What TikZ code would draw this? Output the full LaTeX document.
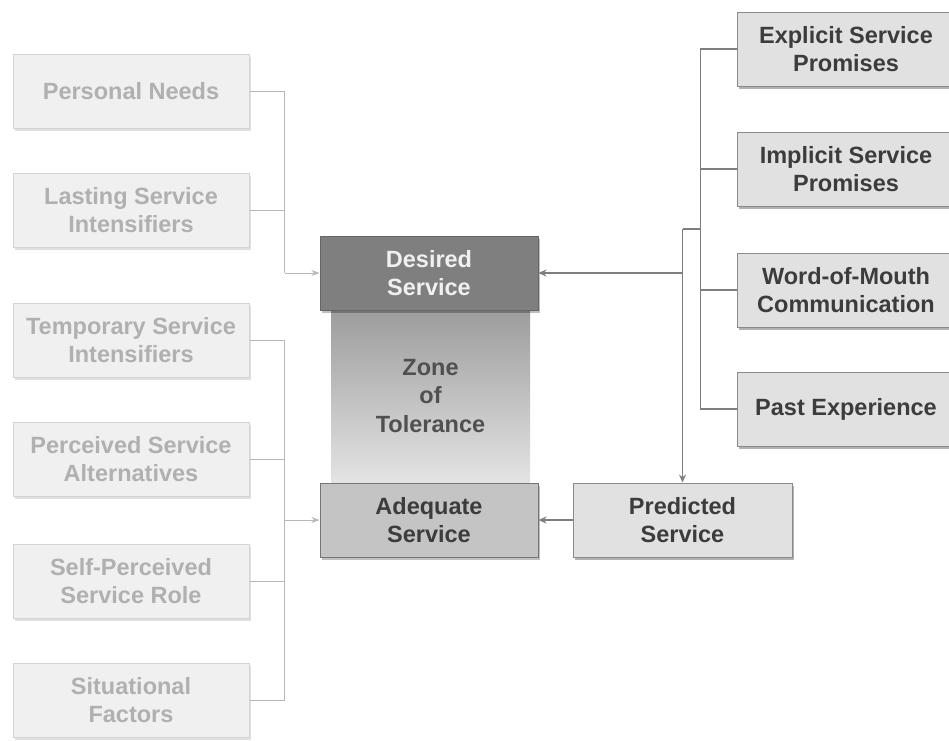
\documentclass[tikz,border=0pt]{standalone}
\usepackage{fontspec}
\setmainfont{Liberation Sans}
\usetikzlibrary{arrows.meta,shadows}

\definecolor{softfill}{HTML}{F0F0F0}
\definecolor{softline}{HTML}{D4D4D4}
\definecolor{softtext}{HTML}{B0B0B0}
\definecolor{softwire}{HTML}{B8B8B8}
\definecolor{boxfill}{HTML}{E1E1E1}
\definecolor{boxline}{HTML}{8A8A8A}
\definecolor{boxtext}{HTML}{3C3C3C}
\definecolor{wire}{HTML}{7E7E7E}
\definecolor{desfill}{HTML}{7F7F7F}
\definecolor{desline}{HTML}{666666}
\definecolor{adqfill}{HTML}{C4C4C4}
\definecolor{zonetop}{HTML}{9C9C9C}
\definecolor{zonebot}{HTML}{E4E4E4}

\tikzset{
  basebox/.style={rectangle, inner sep=0pt, align=center,
    font=\fontsize{23.5}{28.5}\selectfont\bfseries,
    minimum width=218pt, minimum height=74pt, line width=1pt},
  factorbox/.style={basebox, minimum width=236pt, fill=softfill, draw=softline,
    text=softtext,
    drop shadow={shadow xshift=2pt, shadow yshift=-3pt, fill=black, opacity=0.12}},
  sourcebox/.style={basebox, fill=boxfill, draw=boxline, text=boxtext,
    drop shadow={shadow xshift=2pt, shadow yshift=-3pt, fill=black, opacity=0.3}},
  softconn/.style={draw=softwire, line width=0.9pt},
  hardconn/.style={draw=wire, line width=1.4pt},
  softarrow/.style={softconn, -{Stealth[length=8pt, width=6pt]}},
  hardarrow/.style={hardconn, -{Stealth[length=8pt, width=7pt]}}
}

\begin{document}
\begin{tikzpicture}[x=1pt, y=-1pt]
  \clip (0,0) rectangle (949,740);
  \fill[white] (0,0) rectangle (949,740);

  % factors on the left
  \node[factorbox] (pn) at (131,91)  {Personal Needs};
  \node[factorbox] (ls) at (131,210) {Lasting Service\\Intensifiers};
  \node[factorbox] (ts) at (131,340) {Temporary Service\\Intensifiers};
  \node[factorbox] (pa) at (131,459) {Perceived Service\\Alternatives};
  \node[factorbox] (sp) at (131,581) {Self-Perceived\\Service Role};
  \node[factorbox] (sf) at (131,700) {Situational\\Factors};

  % zone of tolerance between the two service levels
  \node[rectangle, minimum width=199pt, minimum height=174pt, inner sep=0pt,
        top color=zonetop, bottom color=zonebot, align=center,
        font=\fontsize{23.5}{28.5}\selectfont\bfseries, text=boxtext!90!white]
        (zone) at (430.5,396) {Zone\\of\\Tolerance};

  \node[basebox, fill=desfill, draw=desline, text=white!94!black,
        drop shadow={shadow xshift=2pt, shadow yshift=-3pt, fill=black, opacity=0.25}]
        (des) at (429,273) {Desired\\Service};
  \node[basebox, fill=adqfill, draw=boxline!85!black, text=boxtext,
        drop shadow={shadow xshift=2pt, shadow yshift=-3pt, fill=black, opacity=0.25}]
        (adq) at (429,520) {Adequate\\Service};
  \node[sourcebox, minimum width=219pt] (pred) at (682.5,520) {Predicted\\Service};

  % sources on the right
  \node[sourcebox] (es) at (846,49)  {Explicit Service\\Promises};
  \node[sourcebox] (is) at (846,169) {Implicit Service\\Promises};
  \node[sourcebox] (wm) at (846,290) {Word-of-Mouth\\Communication};
  \node[sourcebox] (pe) at (846,409) {Past Experience};

  % left connectors
  \path (des.west) ++(-35,0) coordinate (j1);
  \path (adq.west) ++(-35,0) coordinate (j2);
  \draw[softconn] (pn.east) -| (j1);
  \draw[softconn] (ls.east) -| (j1);
  \draw[softarrow] (j1) -- (des.west);
  \draw[softconn] (ts.east) -| (j2);
  \draw[softconn] (sf.east) -| (j2);
  \draw[softconn] (pa.east) -- (pa.east -| j2);
  \draw[softconn] (sp.east) -- (sp.east -| j2);
  \draw[softarrow] (j2) -- (adq.west);

  % right connectors
  \path (es.west) ++(-36,0) coordinate (rtop);
  \path (pe.west) ++(-36,0) coordinate (rbot);
  \draw[hardconn] (es.west) -- (rtop) -- (rbot) -- (pe.west);
  \draw[hardconn] (is.west) -- (is.west -| rtop);
  \draw[hardconn] (wm.west) -- (wm.west -| rtop);
  \path (rtop) ++(0,180) coordinate (b1);
  \coordinate (b2) at (pred.north |- b1);
  \draw[hardconn] (b1) -- (b2);
  \draw[hardarrow] (b2) -- (pred.north);
  \draw[hardarrow] (b2 |- des.east) -- (des.east);
  \draw[hardarrow] (pred.west) -- (adq.east);
\end{tikzpicture}
\end{document}
